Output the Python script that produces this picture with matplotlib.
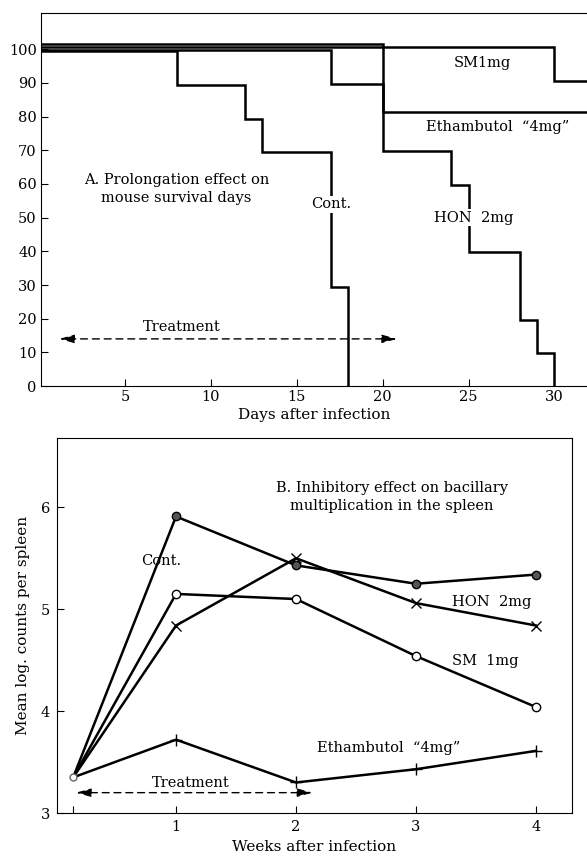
import numpy as np
import matplotlib
matplotlib.use('Agg')
import matplotlib.pyplot as plt
from matplotlib.transforms import offset_copy

plt.rcParams['font.family'] = ['DejaVu Serif']

# A. survival (%) vs days after infection, step curves
cont_days = [0, 8, 12, 13, 17, 18]
cont_surv = [100, 90, 80, 70, 30, 0]
hon_days = [0, 17, 20, 24, 25, 28, 29, 30]
hon_surv = [100, 90, 70, 60, 40, 20, 10, 0]
eth_days = [0, 20, 32]
eth_surv = [100, 80, 80]
sm_days = [0, 30, 32]
sm_surv = [100, 90, 90]

# B. mean log counts per spleen vs weeks after infection
weeks = [1 / 7, 1, 2, 3, 4]
cont_log = [3.35, 5.91, 5.43, 5.25, 5.34]
sm_log = [3.35, 5.15, 5.10, 4.54, 4.04]
hon_log = [3.35, 4.84, 5.50, 5.06, 4.84]
eth_log = [3.35, 3.72, 3.30, 3.43, 3.61]

fs = 10.5
dash = (0, (5, 3.5))
arrow = '<|-|>,head_length=0.9,head_width=0.25'

fig = plt.figure(figsize=(5.87, 8.59), dpi=100)

# ---------- panel A
ax = fig.add_axes([0.0698, 0.5506, 0.9302, 0.4344])
lw = 1.8
for d, s, off in [(eth_days, eth_surv, 5), (sm_days, sm_surv, 2),
                  (hon_days, hon_surv, -1), (cont_days, cont_surv, -2)]:
    tr = offset_copy(ax.transData, fig=fig, x=0, y=off, units='dots')
    ax.step(d, s, where='post', color='black', lw=lw, transform=tr,
            solid_joinstyle='miter')

ax.set_xlim(0.1, 31.9)
ax.set_ylim(0, 110.8)
ax.set_xticks([5, 10, 15, 20, 25, 30])
ax.set_yticks(range(0, 101, 10))
ax.tick_params(direction='in', length=5, labelsize=fs, pad=3)
ax.spines['right'].set_visible(False)
ax.set_xlabel('Days after infection', fontsize=fs + 0.5, labelpad=3)

ax.annotate('', xy=(1.0, 14), xytext=(21.0, 14),
            arrowprops=dict(arrowstyle=arrow, ls=dash, color='black', lw=1))
ax.text(8.3, 17.6, 'Treatment', fontsize=fs, ha='center', va='center')
ax.text(8.0, 58.5, 'A. Prolongation effect on\nmouse survival days', fontsize=fs,
        ha='center', va='center', linespacing=1.35)
ax.text(25.8, 96, 'SM1mg', fontsize=fs, ha='center', va='center')
ax.text(26.7, 77, 'Ethambutol  \u201c4mg\u201d', fontsize=fs, ha='center', va='center')
ax.text(17.0, 54, 'Cont.', fontsize=fs, ha='center', va='center',
        bbox=dict(fc='white', ec='none', pad=1))
ax.text(25.3, 50, 'HON  2mg', fontsize=fs, ha='center', va='center',
        bbox=dict(fc='white', ec='none', pad=1))

# ---------- panel B
bx = fig.add_axes([0.0971, 0.0535, 0.8773, 0.4366])
bx.plot(weeks, cont_log, color='black', lw=1.8, marker='o', ms=6,
        mfc='#555555', mec='black', markevery=[1, 2, 3, 4])
bx.plot(weeks, sm_log, color='black', lw=1.8, marker='o', ms=6,
        mfc='white', mec='black', markevery=[1, 2, 3, 4])
bx.plot(weeks, hon_log, color='black', lw=1.8, marker='x', ms=7,
        mew=1, markevery=[1, 2, 3, 4])
bx.plot(weeks, eth_log, color='black', lw=1.8, marker='+', ms=9,
        mew=1, markevery=[1, 2, 3, 4])
bx.plot(weeks[0], cont_log[0], marker='o', ms=5, mfc='white', mec='#666666')

bx.set_xlim(0.008, 4.3)
bx.set_ylim(3, 6.68)
bx.set_xticks(weeks)
bx.set_xticklabels(['', '1', '2', '3', '4'])
bx.set_yticks([3, 4, 5, 6])
bx.tick_params(direction='in', length=5, labelsize=fs, pad=5)
bx.set_xlabel('Weeks after infection', fontsize=fs + 0.5, labelpad=4)
bx.set_ylabel('Mean log. counts per spleen', fontsize=fs + 0.5, labelpad=8)

bx.annotate('', xy=(weeks[0], 3.2), xytext=(2.16, 3.2),
            arrowprops=dict(arrowstyle=arrow, ls=dash, color='black', lw=1))
bx.text(1.12, 3.29, 'Treatment', fontsize=fs, ha='center', va='center')
bx.text(2.8, 6.1, 'B. Inhibitory effect on bacillary\nmultiplication in the spleen',
        fontsize=fs, ha='center', va='center', linespacing=1.35)
bx.text(0.88, 5.47, 'Cont.', fontsize=fs, ha='center', va='center')
bx.text(3.63, 5.07, 'HON  2mg', fontsize=fs, ha='center', va='center')
bx.text(3.58, 4.49, 'SM  1mg', fontsize=fs, ha='center', va='center')
bx.text(2.77, 3.64, 'Ethambutol  \u201c4mg\u201d', fontsize=fs, ha='center', va='center')

fig.savefig('out.png', dpi=100)
